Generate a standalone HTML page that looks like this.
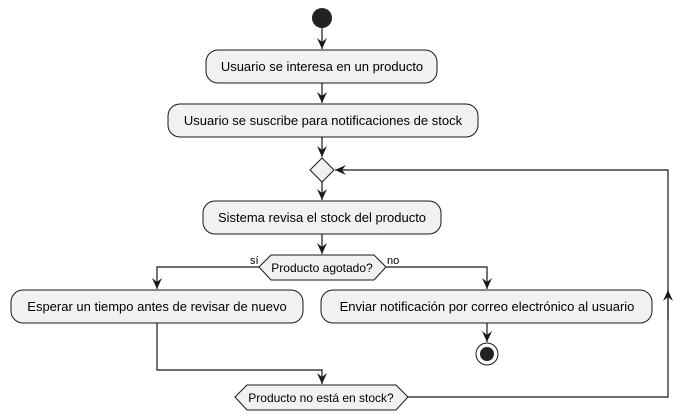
<!DOCTYPE html>
<html><head><meta charset="utf-8"><style>
html,body{margin:0;padding:0;background:#fff;}
svg{display:block;}
text{font-family:"Liberation Sans","DejaVu Sans",sans-serif;font-size:13px;fill:#000;}
</style></head><body>
<svg width="691" height="420" viewBox="0 0 691 420" xmlns="http://www.w3.org/2000/svg">
<defs>
<marker id="a" viewBox="0 0 12 12" refX="11" refY="6" markerWidth="12" markerHeight="12" markerUnits="userSpaceOnUse" orient="auto">
<path d="M0,1 L11,6 L0,11 L4,6 Z" fill="#181818"/>
</marker>
</defs>
<g stroke="#181818" stroke-width="1" fill="#F1F1F1">
<circle cx="322" cy="18" r="10" fill="#222" stroke="none"/>
<rect x="206" y="50" width="231" height="33" rx="12"/>
<rect x="168" y="104" width="310" height="33" rx="12"/>
<polygon points="322,158 334,170 322,182 310,170"/>
<rect x="203" y="201" width="238" height="33" rx="12"/>
<polygon points="259,267 271,255 374,255 386,267 374,280 271,280"/>
<rect x="11" y="290" width="292" height="33" rx="12"/>
<rect x="321" y="290" width="331" height="33" rx="12"/>
<circle cx="487" cy="354" r="11" fill="none"/>
<circle cx="487" cy="354" r="7" fill="#222" stroke="none"/>
<polygon points="235,397 247,385 396,385 408,397 396,410 247,410"/>
</g>
<g stroke="#181818" stroke-width="1.2" fill="none">
<line x1="322" y1="28" x2="322" y2="49" marker-end="url(#a)"/>
<line x1="322" y1="83" x2="322" y2="103" marker-end="url(#a)"/>
<line x1="322" y1="137" x2="322" y2="157" marker-end="url(#a)"/>
<line x1="322" y1="182" x2="322" y2="200" marker-end="url(#a)"/>
<line x1="322" y1="234" x2="322" y2="254" marker-end="url(#a)"/>
<polyline points="259,267 157,267 157,289" marker-end="url(#a)"/>
<polyline points="386,267 487,267 487,289" marker-end="url(#a)"/>
<line x1="487" y1="323" x2="487" y2="342" marker-end="url(#a)"/>
<polyline points="157,323 157,370 322,370 322,384" marker-end="url(#a)"/>
<polyline points="408,397 668,397 668,170 335,170" marker-end="url(#a)"/>
<line x1="668" y1="320" x2="668" y2="290" marker-end="url(#a)"/>
</g>
<text x="322" y="71" text-anchor="middle">Usuario se interesa en un producto</text>
<text x="323" y="125" text-anchor="middle">Usuario se suscribe para notificaciones de stock</text>
<text x="322" y="222" text-anchor="middle">Sistema revisa el stock del producto</text>
<text x="322" y="272" text-anchor="middle" style="font-size:12px">Producto agotado?</text>
<text x="250" y="264" style="font-size:11px">sí</text>
<text x="387" y="264" style="font-size:11px">no</text>
<text x="157" y="311" text-anchor="middle">Esperar un tiempo antes de revisar de nuevo</text>
<text x="487" y="311" text-anchor="middle">Enviar notificación por correo electrónico al usuario</text>
<text x="321" y="402" text-anchor="middle" style="font-size:12px">Producto no está en stock?</text>
</svg>
</body></html>
